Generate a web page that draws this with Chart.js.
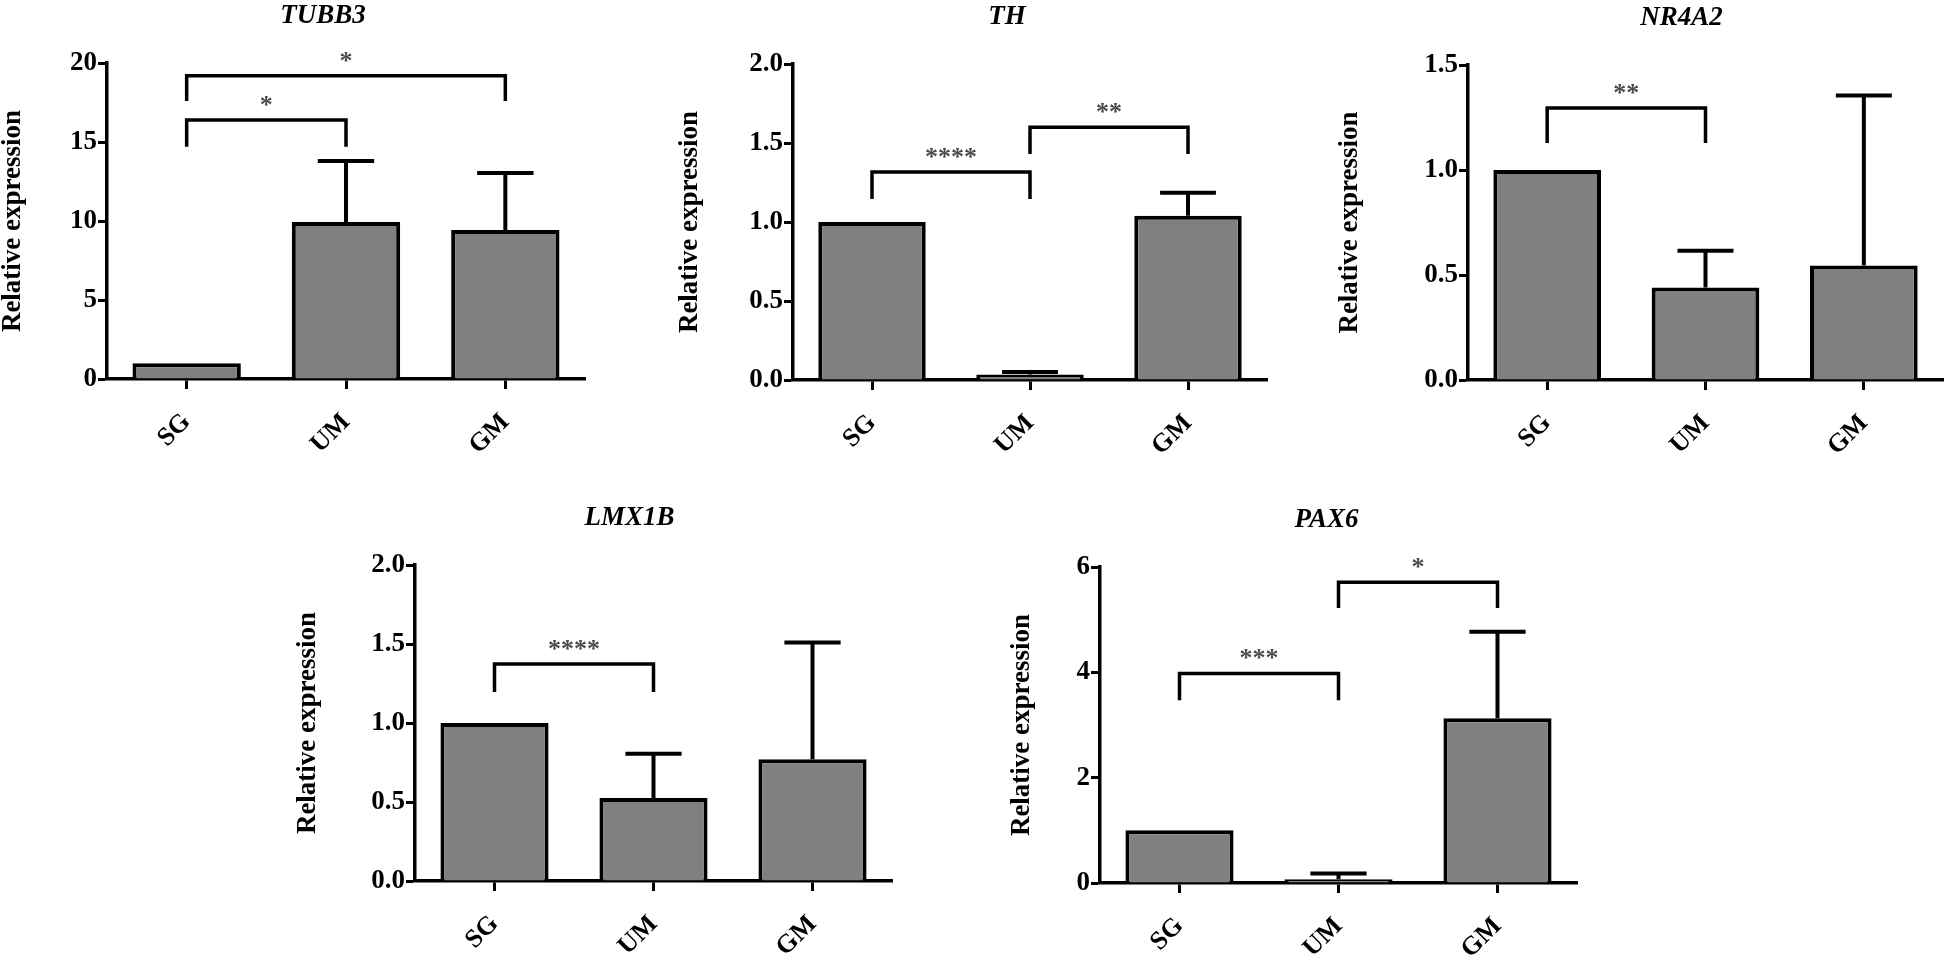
<!DOCTYPE html>
<html>
<head>
<meta charset="utf-8">
<script src="https://cdn.jsdelivr.net/npm/chart.js@4.4.1/dist/chart.umd.min.js"></script>
<style>
html, body { margin: 0; padding: 0; background: #fff; }
body { width: 1950px; height: 961px; position: relative; overflow: hidden; }
canvas { position: absolute; }
</style>
</head>
<body>
<script>
const groups = ["SG", "UM", "GM"];
const genes = ["TUBB3", "TH", "NR4A2", "LMX1B", "PAX6"];

const tubb3Mean = [1, 9.94, 9.43];
const tubb3Sd = [0, 3.86, 3.61];
const thMean = [1, 0.035, 1.04];
const thSd = [0, 0.015, 0.145];
const nr4a2Mean = [1, 0.44, 0.545];
const nr4a2Sd = [0, 0.175, 0.81];
const lmx1bMean = [1, 0.525, 0.77];
const lmx1bSd = [0, 0.28, 0.74];
const pax6Mean = [1, 0.07, 3.13];
const pax6Sd = [0, 0.11, 1.64];

const yMax = [20, 2, 1.5, 2, 6];
const yStep = [5, 0.5, 0.5, 0.5, 2];
const yDecimals = [0, 1, 1, 1, 0];

// significance brackets: [from group, to group, bar level, leg end, stars]
const tubb3Sig = [[0, 1, 16.4, 14.7, "*"], [0, 2, 19.2, 17.6, "*"]];
const thSig = [[0, 1, 1.316, 1.146, "****"], [1, 2, 1.6, 1.43, "**"]];
const nr4a2Sig = [[0, 1, 1.295, 1.129, "**"]];
const lmx1bSig = [[0, 1, 1.373, 1.196, "****"]];
const pax6Sig = [[0, 1, 3.98, 3.47, "***"], [1, 2, 5.71, 5.22, "*"]];

const means = [tubb3Mean, thMean, nr4a2Mean, lmx1bMean, pax6Mean];
const sds = [tubb3Sd, thSd, nr4a2Sd, lmx1bSd, pax6Sd];
const sigs = [tubb3Sig, thSig, nr4a2Sig, lmx1bSig, pax6Sig];

// plot area of each panel on the page
const panels = [
	{ left: 107, top: 63, bottom: 379, right: 585, yW: 110, titleDx: -23 },
	{ left: 793, top: 64, bottom: 380, right: 1267, yW: 119, titleDx: -23 },
	{ left: 1468, top: 65, bottom: 380, right: 1943, yW: 134, titleDx: -24 },
	{ left: 415, top: 565, bottom: 881, right: 892, yW: 123, titleDx: -24 },
	{ left: 1100, top: 567, bottom: 883, right: 1577, yW: 94, titleDx: -12 },
];

const PAD_TOP = 70;
const PAD_RIGHT = 6;
const X_H = 90;
const serif = "'Liberation Serif', 'Times New Roman', serif";

const errorBars = {
	id: "errorBars",
	afterDatasetsDraw(chart) {
		const { ctx } = chart;
		const y = chart.scales.y;
		const meta = chart.getDatasetMeta(0);
		const ds = chart.data.datasets[0];
		ctx.save();
		ctx.strokeStyle = "#000";
		ctx.lineWidth = 4;
		meta.data.forEach((bar, i) => {
			const sd = ds.sd[i];
			if (!sd) return;
			const yTop = y.getPixelForValue(ds.data[i] + sd);
			const half = bar.width * 0.26;
			ctx.beginPath();
			ctx.moveTo(bar.x, bar.y);
			ctx.lineTo(bar.x, yTop);
			ctx.moveTo(bar.x - half, yTop);
			ctx.lineTo(bar.x + half, yTop);
			ctx.stroke();
		});
		ctx.restore();
	},
};

const brackets = {
	id: "brackets",
	afterDraw(chart, args, opts) {
		const { ctx } = chart;
		const x = chart.scales.x;
		const y = chart.scales.y;
		ctx.save();
		opts.items.forEach(([a, b, level, leg, stars]) => {
			const x1 = x.getPixelForValue(a);
			const x2 = x.getPixelForValue(b);
			const yl = y.getPixelForValue(level);
			const yg = y.getPixelForValue(leg);
			ctx.strokeStyle = "#000";
			ctx.lineWidth = 3.5;
			ctx.beginPath();
			ctx.moveTo(x1, yg);
			ctx.lineTo(x1, yl);
			ctx.lineTo(x2, yl);
			ctx.lineTo(x2, yg);
			ctx.stroke();
			ctx.fillStyle = "#4a4a4a";
			ctx.font = "bold 26px " + serif;
			ctx.textAlign = "center";
			ctx.textBaseline = "alphabetic";
			ctx.fillText(stars, (x1 + x2) / 2, yl - 7);
		});
		ctx.restore();
	},
};

const geneTitle = {
	id: "geneTitle",
	afterDraw(chart, args, opts) {
		const { ctx, chartArea } = chart;
		ctx.save();
		ctx.fillStyle = "#000";
		ctx.font = "italic bold 27px " + serif;
		ctx.textAlign = "center";
		ctx.textBaseline = "middle";
		ctx.fillText(opts.text, (chartArea.left + chartArea.right) / 2 + opts.dx, chartArea.top - 47);
		ctx.restore();
	},
};

panels.forEach((p, i) => {
	const canvas = document.createElement("canvas");
	const w = p.yW + (p.right - p.left) + PAD_RIGHT;
	const h = PAD_TOP + (p.bottom - p.top) + X_H;
	canvas.width = w;
	canvas.height = h;
	canvas.style.left = (p.left - p.yW) + "px";
	canvas.style.top = (p.top - PAD_TOP) + "px";
	canvas.style.width = w + "px";
	canvas.style.height = h + "px";
	document.body.appendChild(canvas);

	new Chart(canvas, {
		type: "bar",
		data: {
			labels: groups,
			datasets: [
				{
					data: means[i],
					sd: sds[i],
					backgroundColor: "#808080",
					borderColor: "#000",
					borderWidth: 4,
					barPercentage: 0.68,
					categoryPercentage: 1,
				},
			],
		},
		options: {
			responsive: false,
			animation: false,
			devicePixelRatio: 1,
			layout: { padding: { top: PAD_TOP, right: PAD_RIGHT, left: 0, bottom: 0 } },
			plugins: {
				legend: { display: false },
				tooltip: { enabled: false },
				title: { display: false },
				brackets: { items: sigs[i] },
				geneTitle: { text: genes[i], dx: p.titleDx },
			},
			scales: {
				x: {
					offset: true,
					grid: {
						offset: false,
						drawOnChartArea: false,
						drawTicks: true,
						tickLength: 10,
						tickWidth: 3,
						tickColor: "#000",
					},
					border: { display: true, color: "#000", width: 3.5 },
					ticks: {
						color: "#000",
						font: { family: serif, size: 26, weight: "bold" },
						minRotation: 45,
						maxRotation: 45,
						autoSkip: false,
						padding: 18,
					},
					afterFit(scale) {
						scale.height = X_H;
					},
				},
				y: {
					min: 0,
					max: yMax[i],
					grid: {
						drawOnChartArea: false,
						drawTicks: true,
						tickLength: 9,
						tickWidth: 3,
						tickColor: "#000",
					},
					border: { display: true, color: "#000", width: 3.5 },
					ticks: {
						stepSize: yStep[i],
						color: "#000",
						padding: 1,
						font: { family: serif, size: 27, weight: "bold" },
						callback: (v) => Number(v).toFixed(yDecimals[i]),
					},
					title: {
						display: true,
						text: "Relative expression",
						color: "#000",
						padding: 0,
						font: { family: serif, size: 27, weight: "bold" },
					},
					afterFit(scale) {
						scale.width = p.yW;
					},
				},
			},
		},
		plugins: [errorBars, brackets, geneTitle],
	});
});
</script>
</body>
</html>
